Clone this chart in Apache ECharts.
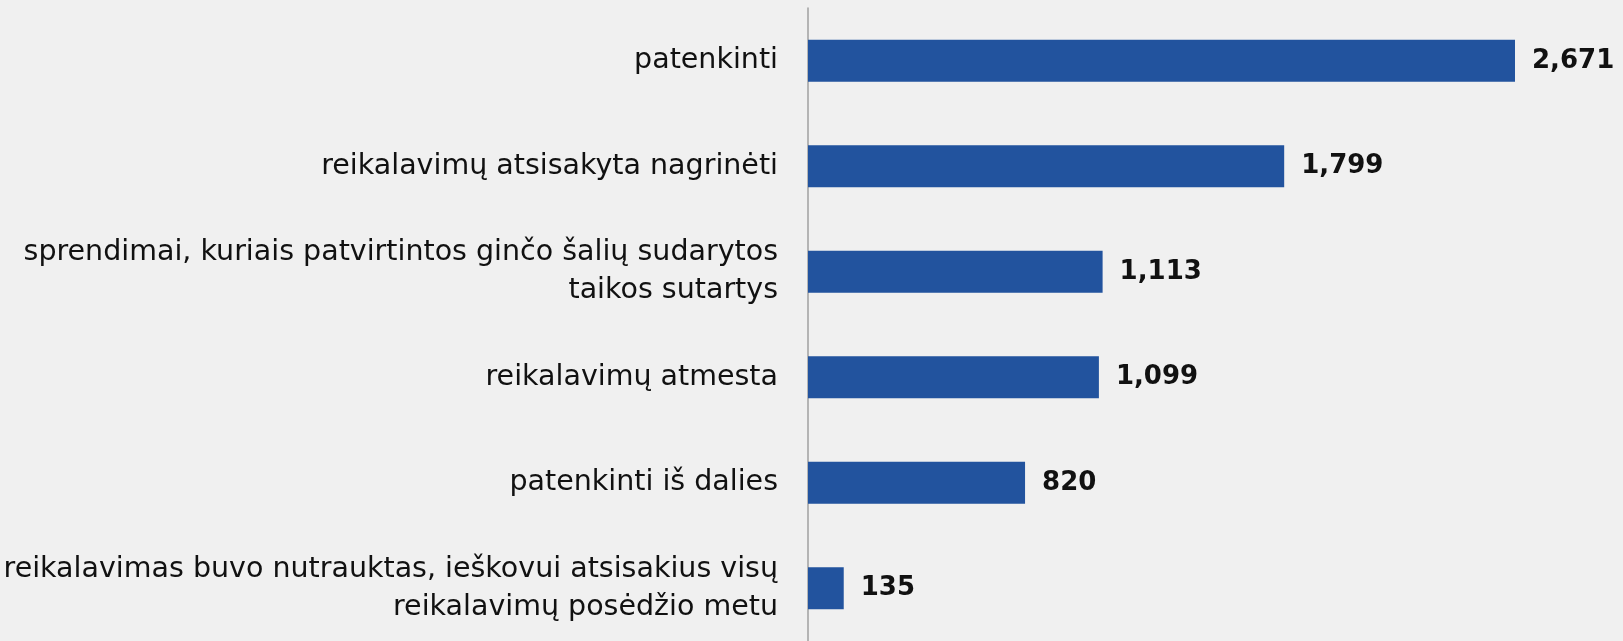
<!DOCTYPE html>
<html>
<head>
<meta charset="utf-8">
<script src="https://cdn.jsdelivr.net/npm/echarts@6/dist/echarts.min.js"></script>
<style>
  html, body { margin: 0; padding: 0; background: #f0f0f0; }
  #chart { width: 1623px; height: 641px; }
</style>
</head>
<body>
<div id="chart"></div>
<script>
const categories = [
  'patenkinti',
  'reikalavimų atsisakyta nagrinėti',
  'sprendimai, kuriais patvirtintos ginčo šalių sudarytos\ntaikos sutartys',
  'reikalavimų atmesta',
  'patenkinti iš dalies',
  'reikalavimas buvo nutrauktas, ieškovui atsisakius visų\nreikalavimų posėdžio metu'
]
const values = [2671, 1799, 1113, 1099, 820, 135]

const chart = echarts.init(document.getElementById('chart'))

chart.setOption({
  backgroundColor: '#f0f0f0',
  animation: false,
  grid: {
    left: 808,
    right: 108,
    top: 8,
    bottom: -3,
    containLabel: false
  },
  xAxis: {
    type: 'value',
    show: false,
    min: 0,
    max: 'dataMax'
  },
  yAxis: {
    type: 'category',
    inverse: true,
    data: categories,
    axisLine: {
      lineStyle: { color: '#a0a0a0', width: 1.5 }
    },
    axisTick: { show: false },
    axisLabel: {
      margin: 30,
      color: '#111',
      fontFamily: 'DejaVu Sans',
      fontSize: 28.5,
      lineHeight: 38,
      align: 'right',
      padding: [9, 0, 0, 0]
    }
  },
  series: [{
    type: 'bar',
    data: values,
    barWidth: 42,
    itemStyle: { color: '#22539e' },
    label: {
      show: true,
      position: 'right',
      distance: 17,
      color: '#111',
      fontFamily: 'DejaVu Sans',
      fontWeight: 'bold',
      fontSize: 26,
      padding: [7, 0, 0, 0],
      formatter: p => p.value.toLocaleString('en-US')
    }
  }]
})
</script>
</body>
</html>
